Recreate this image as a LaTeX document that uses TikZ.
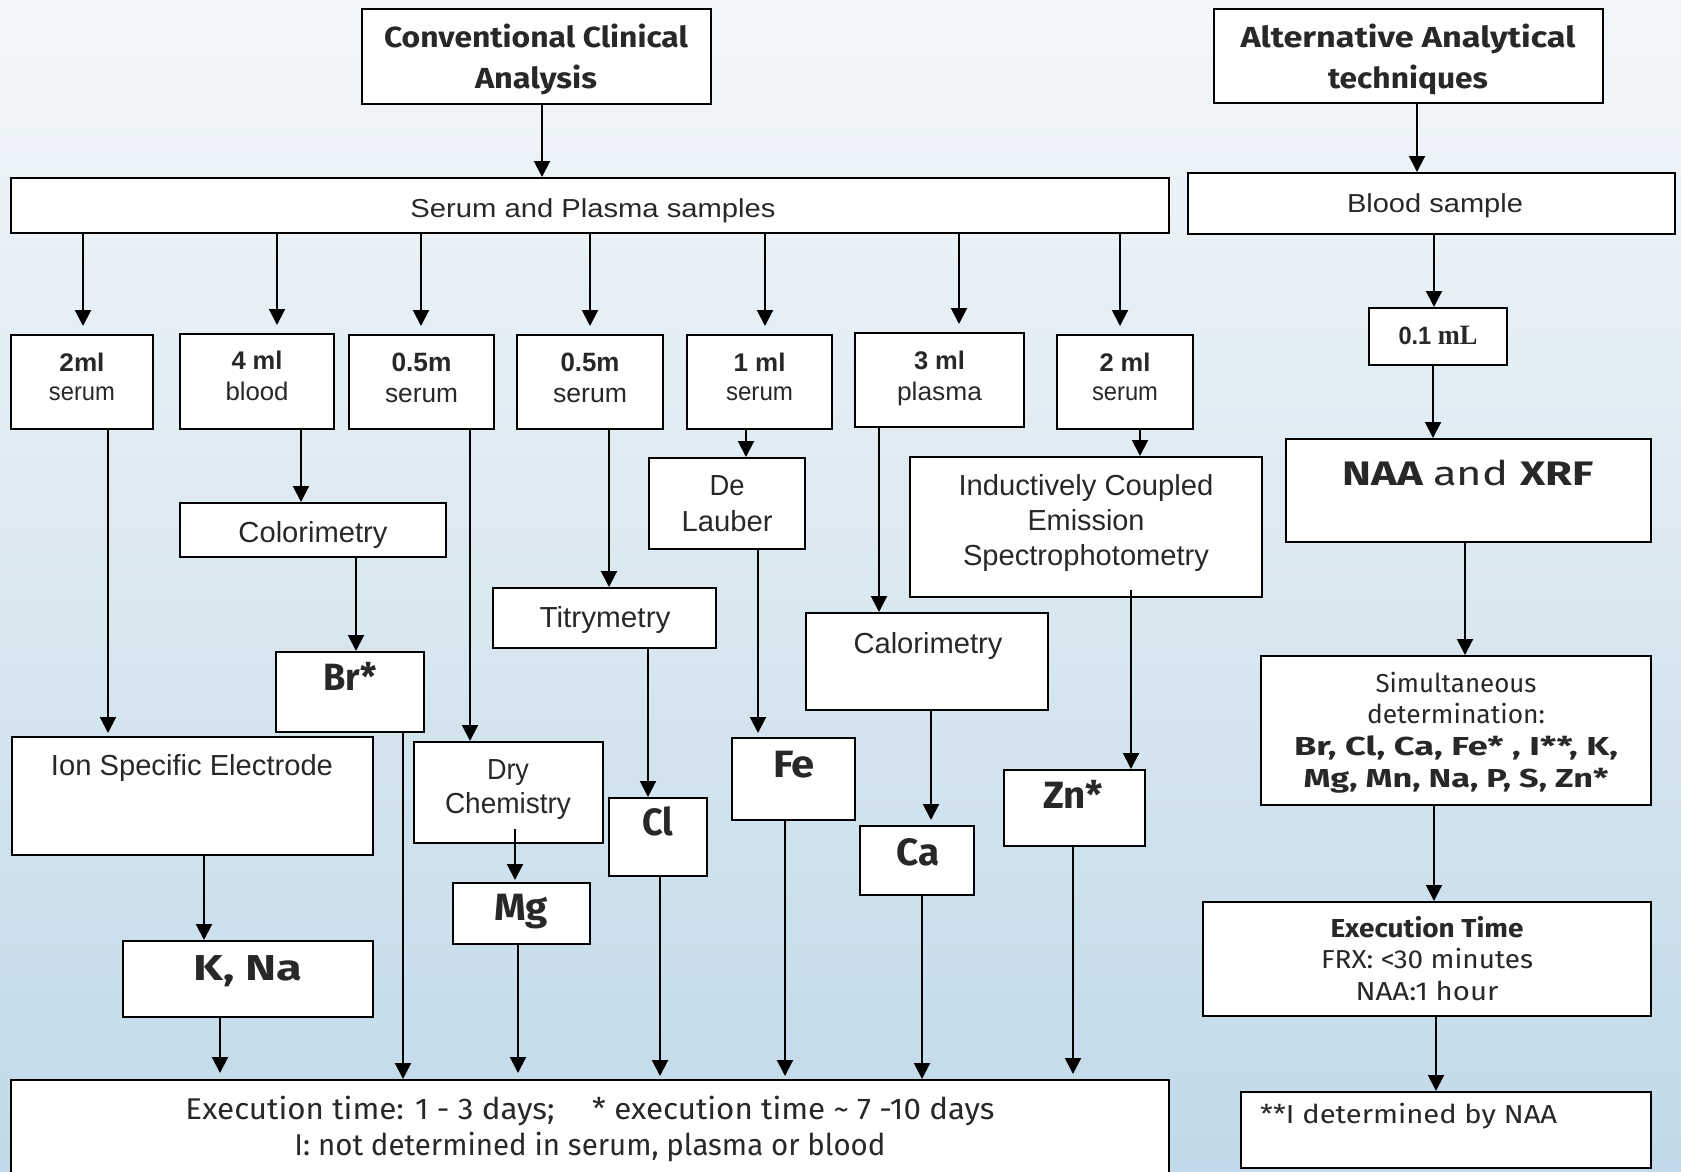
\documentclass[tikz,border=0pt]{standalone}
\usepackage{fontspec}
\usepackage{graphicx}
\setmainfont{Liberation Sans}
\newfontfamily\cf{Fira Sans}
\newfontfamily\tf{Liberation Serif}
\usetikzlibrary{arrows.meta}
\definecolor{txt}{RGB}{40,40,40}
\definecolor{bgtop}{RGB}{243,247,250}
\definecolor{bgbot}{RGB}{193,217,232}
\newcommand{\fw}[2]{\resizebox{#1pt}{\height}{#2}}
\newcommand{\mlines}[2]{\vtop{\baselineskip=#1pt\lineskiplimit=-1000pt\lineskip=0pt\halign{\hfil##\hfil\cr#2\crcr}}}
\newcommand{\fs}[1]{\fontsize{#1}{#1}\selectfont}
\newcommand{\bx}[5]{\node[box, minimum width={(#4)-(#2)}, minimum height={(#5)-(#3)}] (#1) at ({((#2)+(#4))/2},{((#3)+(#5))/2}) {};}
\begin{document}
\begin{tikzpicture}[x=1pt,y=-1pt,
  box/.style={draw=black, fill=white, line width=2pt, inner sep=0pt, rectangle},
  arr/.style={line width=2pt, -{Triangle[width=16pt,length=16pt]}},
  tx/.style={inner sep=0pt, text=txt, anchor=base}]
\useasboundingbox (0,0) rectangle (1681,1172);
\shade[top color=bgtop, bottom color=bgbot] (0,0) rectangle (1681,1172);
% boxes
\bx{conv}{362}{9}{711}{104}
\bx{alt}{1214}{9}{1603}{103}
\bx{serum}{11}{178}{1169}{233}
\bx{blood}{1188}{173}{1675}{234}
\bx{sa}{11}{335}{153}{429}
\bx{sb}{180}{334}{334}{429}
\bx{sc}{349}{335}{494}{429}
\bx{sd}{517}{335}{663}{429}
\bx{se}{687}{335}{832}{429}
\bx{sf}{855}{333}{1024}{427}
\bx{sg}{1057}{335}{1193}{429}
\bx{colr}{180}{503}{446}{557}
\bx{ise}{12}{737}{373}{855}
\bx{br}{276}{652}{424}{732}
\bx{dry}{414}{742}{603}{843}
\bx{mg}{453}{883}{590}{944}
\bx{titr}{493}{588}{716}{648}
\bx{cl}{609}{798}{707}{876}
\bx{delau}{649}{458}{805}{549}
\bx{fe}{732}{738}{855}{820}
\bx{calo}{806}{613}{1048}{710}
\bx{ca}{860}{826}{974}{895}
\bx{icp}{910}{457}{1262}{597}
\bx{zn}{1004}{770}{1145}{846}
\bx{kna}{123}{941}{373}{1017}
\bx{bottom}{11}{1080}{1169}{1185}
\bx{vol}{1369}{308}{1507}{365}
\bx{naa}{1286}{439}{1651}{542}
\bx{sim}{1261}{656}{1651}{805}
\bx{exec}{1203}{902}{1651}{1016}
\bx{inote}{1241}{1092}{1651}{1168}
% texts: Arial-like
\node[tx, font=\fs{26}] (serum-t) at (593,217) {\fw{365}{Serum and Plasma samples}};
\node[tx, font=\fs{26}] (blood-t) at (1435,212) {\fw{176}{Blood sample}};
\node[tx, font=\fs{25.5}] (sa-t) at (82,371) {\mlines{29}{\fw{45}{\bfseries 2ml}\cr\fw{66}{serum}}};
\node[tx, font=\fs{25.5}] (sb-t) at (257,369) {\mlines{31}{\fw{51}{\bfseries 4 ml}\cr\fw{63}{blood}}};
\node[tx, font=\fs{26.5}] (sc-t) at (421.5,371) {\mlines{31}{\fw{60}{\bfseries 0.5m}\cr\fw{73}{serum}}};
\node[tx, font=\fs{26.5}] (sd-t) at (590,371) {\mlines{31}{\fw{59}{\bfseries 0.5m}\cr\fw{74}{serum}}};
\node[tx, font=\fs{25.5}] (se-t) at (759.5,371) {\mlines{29}{\fw{52}{\bfseries 1 ml}\cr\fw{67}{serum}}};
\node[tx, font=\fs{25.5}] (sf-t) at (939.5,369) {\mlines{31}{\fw{51}{\bfseries 3 ml}\cr\fw{85}{plasma}}};
\node[tx, font=\fs{25.5}] (sg-t) at (1125,371) {\mlines{29}{\fw{51}{\bfseries 2 ml}\cr\fw{66}{serum}}};
\node[tx, font=\fs{29}] (colr-t) at (313,542) {\fw{149}{Colorimetry}};
\node[tx, font=\fs{29}] (ise-t) at (192,775) {\fw{282}{Ion Specific Electrode}};
\node[tx, font=\fs{29}] (dry-t) at (508,779) {\mlines{34}{\fw{42}{Dry}\cr\fw{126}{Chemistry}}};
\node[tx, font=\fs{29}] (titr-t) at (605,627) {\fw{131}{Titrymetry}};
\node[tx, font=\fs{29}] (delau-t) at (727,495) {\mlines{36}{\fw{35}{De}\cr\fw{91}{Lauber}}};
\node[tx, font=\fs{29}] (calo-t) at (928,653) {\fw{149}{Calorimetry}};
\node[tx, font=\fs{29}] (icp-t) at (1086,495) {\mlines{35}{\fw{255}{Inductively Coupled}\cr\fw{117}{Emission}\cr\fw{246}{Spectrophotometry}}};
\node[tx, font=\fs{25}] (vol-t) at (1438,344) {\fw{79}{\bfseries 0.1 {\tf\fs{28}mL}}};
% texts: comic-like
\node[tx, font={\cf\bfseries\fs{29}}] (conv-t) at (536,48) {\mlines{40}{\fw{304}{Conventional Clinical}\cr\fw{122}{Analysis}}};
\node[tx, font={\cf\bfseries\fs{29}}] (alt-t) at (1408,48) {\mlines{40}{\fw{335}{Alternative Analytical}\cr\fw{160}{techniques}}};
\node[tx, font={\cf\bfseries\fs{38}}] (br-t) at (350,690) {\fw{54}{Br*}};
\node[tx, font={\cf\bfseries\fs{38}}] (cl-t) at (658,835) {\fw{31}{Cl}};
\node[tx, font={\cf\bfseries\fs{38}}] (fe-t) at (794,777) {\fw{42}{Fe}};
\node[tx, font={\cf\bfseries\fs{38}}] (mg-t) at (521,920) {\fw{54}{Mg}};
\node[tx, font={\cf\bfseries\fs{38}}] (ca-t) at (918,865) {\fw{43}{Ca}};
\node[tx, font={\cf\bfseries\fs{38}}] (zn-t) at (1073,808) {\fw{60}{Zn*}};
\node[tx, font={\cf\bfseries\fs{36}}] (kna-t) at (248,980) {\fw{109}{K, Na}};
\node[tx, font={\cf\fs{34}}] (naa-t) at (1468,485) {\fw{251}{\bfseries NAA \mdseries and \bfseries XRF}};
\node[tx, font={\cf\fs{26}}] (sim-t) at (1456,692) {\mlines{31.7}{\fw{161}{Simultaneous}\cr\fw{178}{determination:}\cr\fw{324}{\bfseries Br, Cl, Ca, Fe* , I**, K,}\cr\fw{305}{\bfseries Mg, Mn, Na, P, S, Zn*}}};
\node[tx, font={\cf\fs{26}}] (exec-t) at (1427,937) {\mlines{31.5}{\fw{193}{\bfseries Execution Time}\cr\fw{212}{FRX: <30 minutes}\cr\fw{143}{NAA:1 hour}}};
\node[tx, font={\cf\fs{26}}, anchor=base west] (inote-t) at (1260,1123) {\fw{297}{**I determined by NAA}};
\node[tx, font={\cf\fs{30}}] (bottom-t) at (590,1119) {\mlines{36}{\fw{809}{Execution time: 1 - 3 days;\hspace{1.2em}* execution time \textasciitilde{} 7 -10 days}\cr\fw{591}{I: not determined in serum, plasma or blood}}};
% connectors
\draw[arr] (conv.south -| 542,0) -- (serum.north -| 542,0);
\draw[arr] (alt.south -| 1417,0) -- (blood.north -| 1417,0);
\draw[arr, shorten >=8pt] (serum.south -| 83,0) -- (sa.north -| 83,0);
\draw[arr, shorten >=8pt] (serum.south -| 277,0) -- (sb.north -| 277,0);
\draw[arr, shorten >=8pt] (serum.south -| 421,0) -- (sc.north -| 421,0);
\draw[arr, shorten >=8pt] (serum.south -| 590,0) -- (sd.north -| 590,0);
\draw[arr, shorten >=8pt] (serum.south -| 765,0) -- (se.north -| 765,0);
\draw[arr, shorten >=8pt] (serum.south -| 959,0) -- (sf.north -| 959,0);
\draw[arr, shorten >=8pt] (serum.south -| 1120,0) -- (sg.north -| 1120,0);
\draw[arr] (blood.south -| 1434,0) -- (vol.north -| 1434,0);
\draw[arr] (vol.south -| 1433,0) -- (naa.north -| 1433,0);
\draw[arr] (naa.south -| 1465,0) -- (sim.north -| 1465,0);
\draw[arr] (sim.south -| 1434,0) -- (exec.north -| 1434,0);
\draw[arr] (exec.south -| 1436,0) -- (inote.north -| 1436,0);
\draw[arr, shorten >=3pt] (sa.south -| 108,0) -- (ise.north -| 108,0);
\draw[arr] (sb.south -| 301,0) -- (colr.north -| 301,0);
\draw[arr] (colr.south -| 356,0) -- (br.north -| 356,0);
\draw[arr] (br.south -| 403,0) -- (bottom.north -| 403,0);
\draw[arr] (sc.south -| 470,0) -- (dry.north -| 470,0);
\draw[arr, shorten >=2pt] ([yshift=15pt]dry.south -| 515,0) -- (mg.north -| 515,0);
\draw[arr, shorten >=6pt] (mg.south -| 518,0) -- (bottom.north -| 518,0);
\draw[arr] (sd.south -| 609,0) -- (titr.north -| 609,0);
\draw[arr] (titr.south -| 648,0) -- (cl.north -| 648,0);
\draw[arr, shorten >=3pt] (cl.south -| 660,0) -- (bottom.north -| 660,0);
\draw[arr] (se.south -| 746,0) -- (delau.north -| 746,0);
\draw[arr, shorten >=4pt] (delau.south -| 758,0) -- (fe.north -| 758,0);
\draw[arr, shorten >=3pt] (fe.south -| 785,0) -- (bottom.north -| 785,0);
\draw[arr] (sf.south -| 879,0) -- (calo.north -| 879,0);
\draw[arr, shorten >=5pt] (calo.south -| 931,0) -- (ca.north -| 931,0);
\draw[arr] (ca.south -| 922,0) -- (bottom.north -| 922,0);
\draw[arr] (sg.south -| 1140,0) -- (icp.north -| 1140,0);
\draw[arr] ([yshift=8pt]icp.south -| 1131,0) -- (zn.north -| 1131,0);
\draw[arr, shorten >=5pt] (zn.south -| 1073,0) -- (bottom.north -| 1073,0);
\draw[arr] (ise.south -| 204,0) -- (kna.north -| 204,0);
\draw[arr, shorten >=6pt] (kna.south -| 220,0) -- (bottom.north -| 220,0);
\end{tikzpicture}
\end{document}
